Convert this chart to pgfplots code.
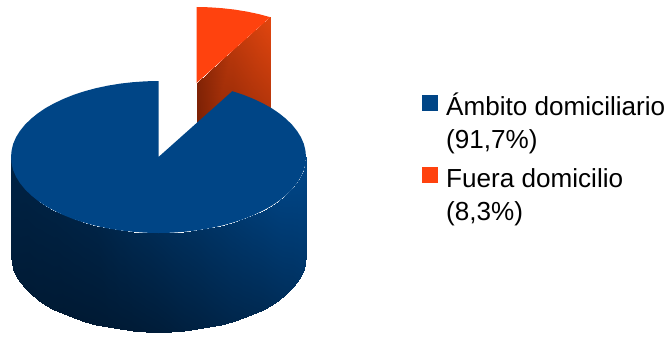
\documentclass[border=0pt]{standalone}
\usepackage{fontspec}
\setmainfont{Liberation Sans}
\usepackage{pgfplots}
\pgfplotsset{compat=1.18}
\usepackage{pgfplotstable}
\definecolor{pieblue}{RGB}{0,69,134}
\definecolor{pieorange}{RGB}{255,66,14}
\pgfplotsset{
  colormap={sideblue}{rgb255=(0,26,52) rgb255=(0,69,134)},
  colormap={faceorange}{rgb255=(115,30,4) rgb255=(226,70,15)},
}
\tikzset{legendtext/.style={anchor=base west, inner sep=0pt, font=\fontsize{26.1bp}{30bp}\selectfont}}
% Outer wall of the large slice: rim point and floor point per column, with shade
\pgfplotstableread{
x y m
306.0 157.0 1.00
306.0 256.0 .66
305.4 163.6 1.00
305.4 262.6 .66
303.8 170.2 .99
303.8 269.2 .64
301.0 176.7 .98
301.0 275.7 .62
297.1 183.0 .96
297.1 282.0 .58
292.2 189.1 .94
292.2 288.1 .54
286.2 195.0 .92
286.2 294.0 .51
279.3 200.6 .89
279.3 299.6 .47
271.5 205.9 .85
271.5 304.9 .43
262.8 210.7 .80
262.8 309.7 .38
253.3 215.2 .76
253.3 314.2 .35
243.1 219.3 .71
243.1 318.3 .32
232.3 222.8 .66
232.3 321.8 .29
220.8 225.9 .61
220.8 324.9 .25
208.9 228.4 .57
208.9 327.4 .21
196.7 230.4 .52
196.7 329.4 .17
184.1 231.8 .48
184.1 330.8 .14
171.4 232.7 .44
171.4 331.7 .10
158.5 233.0 .40
158.5 332.0 .07
145.6 232.7 .36
145.6 331.7 .05
132.9 231.8 .33
132.9 330.8 .03
120.3 230.4 .29
120.3 329.4 .02
108.1 228.4 .25
108.1 327.4 .01
96.2 225.9 .21
96.2 324.9 .00
84.7 222.8 .20
84.7 321.8 .00
73.9 219.3 .19
73.9 318.3 .00
63.7 215.2 .18
63.7 314.2 .00
54.2 210.7 .17
54.2 309.7 .01
45.5 205.9 .17
45.5 304.9 .01
37.7 200.6 .17
37.7 299.6 .02
30.8 195.0 .17
30.8 294.0 .02
24.8 189.1 .17
24.8 288.1 .03
19.9 183.0 .18
19.9 282.0 .04
16.0 176.7 .18
16.0 275.7 .05
13.2 170.2 .19
13.2 269.2 .06
11.6 163.6 .19
11.6 262.6 .07
11.0 157.0 .19
11.0 256.0 .07
}\wallblue
% Cut face of the small slice
\pgfplotstableread{
x y m
196.5 83.0 .12
196.5 182.0 .00
233.4 50.1 .62
233.4 149.1 .20
270.3 17.2 1.00
270.3 116.2 .55
}\faceorange
\begin{document}
\begin{tikzpicture}
\begin{axis}[
  width=670bp, height=336bp, scale only axis,
  xmin=0, xmax=670, ymin=0, ymax=336, y dir=reverse,
  hide axis, point meta min=0, point meta max=1,
]
% Keep the whole canvas in the picture's bounding box
\path (rel axis cs:0,0) rectangle (rel axis cs:1,1);
% Small slice, lifted out of the pie
\addplot[surf, shader=interp, colormap name=faceorange, mesh/cols=2, point meta=explicit]
  table[x=x, y=y, meta=m] {\faceorange};
\addplot[fill=pieorange, draw=none] coordinates {
  (196.5,83) (196.5,7) (209.4,7.3) (222.1,8.2) (234.7,9.6) (246.9,11.6) (258.8,14.1) (270.3,17.2)
} -- cycle;
% Large slice: wall, then top surface
\addplot[surf, shader=interp, colormap name=sideblue, mesh/cols=2, point meta=explicit]
  table[x=x, y=y, meta=m] {\wallblue};
\addplot[fill=pieblue, draw=none] coordinates {
  (158.5,157) (232.3,91.2) (243.1,94.7) (253.3,98.8) (262.8,103.3) (271.5,108.1) (279.3,113.4)
  (286.2,119) (292.2,124.9) (297.1,131) (301,137.3) (303.8,143.8) (305.4,150.4) (306,157)
  (305.4,163.6) (303.8,170.2) (301,176.7) (297.1,183) (292.2,189.1) (286.2,195) (279.3,200.6)
  (271.5,205.9) (262.8,210.7) (253.3,215.2) (243.1,219.3) (232.3,222.8) (220.8,225.9) (208.9,228.4)
  (196.7,230.4) (184.1,231.8) (171.4,232.7) (158.5,233) (145.6,232.7) (132.9,231.8) (120.3,230.4)
  (108.1,228.4) (96.2,225.9) (84.7,222.8) (73.9,219.3) (63.7,215.2) (54.2,210.7) (45.5,205.9)
  (37.7,200.6) (30.8,195) (24.8,189.1) (19.9,183) (16,176.7) (13.2,170.2) (11.6,163.6) (11,157)
  (11.6,150.4) (13.2,143.8) (16,137.3) (19.9,131) (24.8,124.9) (30.8,119) (37.7,113.4) (45.5,108.1)
  (54.2,103.3) (63.7,98.8) (73.9,94.7) (84.7,91.2) (96.2,88.1) (108.1,85.6) (120.3,83.6) (132.9,82.2)
  (145.6,81.3) (158.5,81)
} -- cycle;
% Legend keys
\addplot[fill=pieblue, draw=none] coordinates {(422,95) (438,95) (438,111) (422,111)} -- cycle;
\addplot[fill=pieorange, draw=none] coordinates {(422,167) (438,167) (438,183) (422,183)} -- cycle;
% Legend entries
\node[legendtext] at (axis cs:446,115) {Ámbito domiciliario};
\node[legendtext] at (axis cs:446,148) {(91,7\%)};
\node[legendtext] at (axis cs:446,187) {Fuera domicilio};
\node[legendtext] at (axis cs:446,220) {(8,3\%)};
\end{axis}
\end{tikzpicture}
\end{document}
